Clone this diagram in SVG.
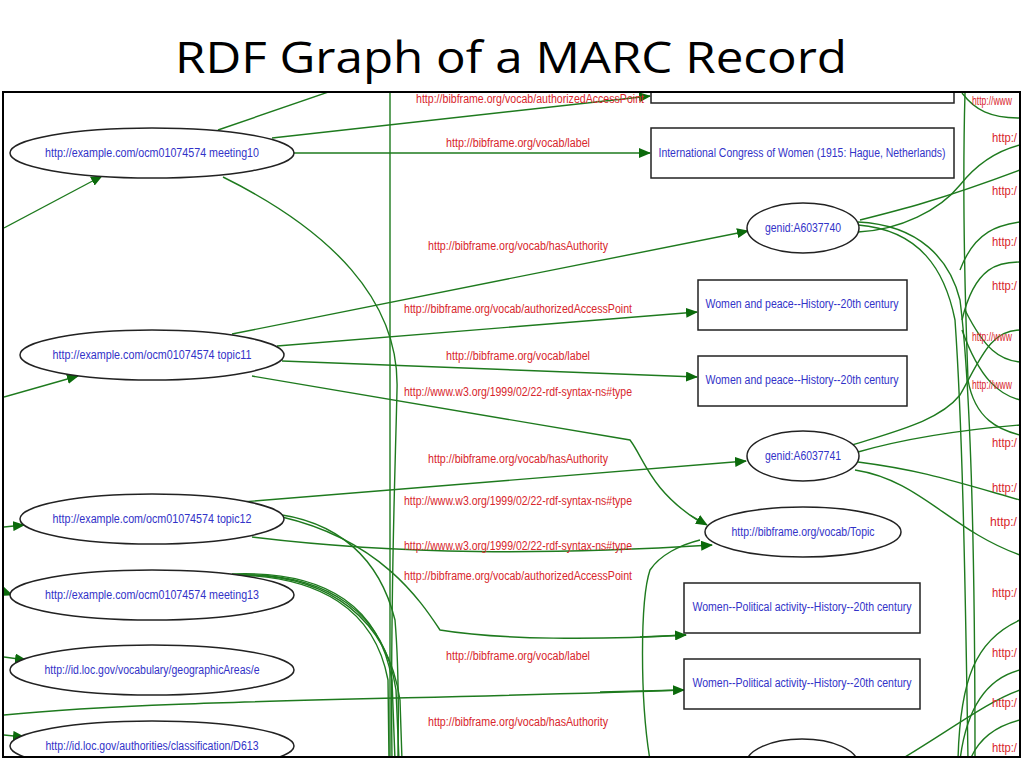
<svg xmlns="http://www.w3.org/2000/svg" width="1024" height="768" viewBox="0 0 1024 768">
<style>
.t{font-family:"Open Sans","Liberation Sans",Arial,sans-serif;font-size:44px;fill:#000}
.n{fill:#fff;stroke:#222;stroke-width:1.5}
.nt{font-family:"Liberation Sans",Arial,sans-serif;font-size:12px;fill:#3232c8;text-anchor:middle}
.lb{font-family:"Liberation Sans",Arial,sans-serif;font-size:12px;fill:#d8262c}
.e{fill:none;stroke:#1e7a1e;stroke-width:1.4}
.a{fill:none;stroke:#1e7a1e;stroke-width:1.4;marker-end:url(#ar)}
</style>
<defs>
<marker id="ar" markerWidth="12" markerHeight="10" refX="11" refY="5" orient="auto" markerUnits="userSpaceOnUse"><path d="M0,0 L12,5 L0,10 Z" fill="#0b6a0b"/></marker>
<clipPath id="fr"><rect x="4" y="93" width="1016" height="664"/></clipPath>
</defs>
<rect width="1024" height="768" fill="#fff"/>
<text class="t" x="511" y="73" text-anchor="middle" textLength="672" lengthAdjust="spacingAndGlyphs">RDF Graph of a MARC Record</text>
<g clip-path="url(#fr)">
<g id="edges">
<path class="a" d="M4,228 L102,176"/>
<path class="a" d="M4,397 L78,376"/>
<path class="a" d="M4,527 L24,525"/>
<path class="a" d="M4,592 L12,595"/>
<path class="a" d="M4,657 L26,660"/>
<path class="a" d="M4,735 L24,737"/>
<path class="e" d="M218,130 L340,88"/>
<path class="a" d="M272,138 L650,96"/>
<path class="a" d="M294,153 L650,153"/>
<path class="e" d="M223,177 C330,230 400,300 397,390 C395,480 390,600 392,760"/>
<path class="e" d="M390,93 L390,760"/>
<path class="a" d="M232,334 L748,231"/>
<path class="a" d="M277,346 L697,312"/>
<path class="a" d="M282,361 L697,377"/>
<path class="e" d="M252,376 L630,440 C645,460 650,490 700,522"/><path class="a" d="M690,515 L707,525"/>
<path class="a" d="M242,502 L746,461"/>
<path class="e" d="M268,513 C340,520 380,560 395,620 C400,680 398,730 398,760"/>
<path class="e" d="M282,517 C380,540 420,600 440,630 C500,640 600,640 686,635"/><path class="a" d="M640,637 L686,635"/>
<path class="a" d="M252,537 C400,555 550,555 712,545"/>
<path class="e" d="M232,574 C330,570 380,610 392,680 L395,760"/>
<path class="e" d="M236,575 C330,572 385,615 396,690 L399,760"/>
<path class="e" d="M240,575 C330,574 388,620 400,700 L402,760"/>
<path class="e" d="M230,575 C320,575 375,610 388,680 L389,760"/>
<path class="e" d="M4,715 C150,700 400,700 686,690"/><path class="a" d="M600,692 L684,690"/>
<path class="e" d="M650,760 C640,700 640,600 650,570 C660,555 680,545 700,540"/>
<path class="e" d="M860,220 C900,210 940,200 1020,170"/>
<path class="e" d="M858,232 C900,230 940,210 960,185 C980,160 1000,150 1020,145"/>
<path class="e" d="M858,222 C920,225 950,260 960,300 C970,380 975,520 975,760"/>
<path class="e" d="M858,225 C920,230 945,270 955,320 C962,420 965,560 968,760"/>
<path class="e" d="M858,452 C900,440 960,430 1020,425"/>
<path class="e" d="M858,462 C920,470 950,480 1020,500"/>
<path class="e" d="M852,445 C900,430 940,420 960,395 C980,360 990,330 1020,330"/>
<path class="e" d="M855,470 C920,480 950,530 1020,555"/>
<path class="e" d="M962,93 C975,110 990,118 1020,118"/>
<path class="e" d="M965,93 C962,200 965,300 968,380 C975,420 1000,430 1020,435"/>
<path class="e" d="M960,270 C975,230 1000,225 1020,222"/>
<path class="e" d="M962,320 C975,265 1000,262 1020,262"/>
<path class="e" d="M962,330 C980,380 1000,395 1020,400"/>
<path class="e" d="M965,310 C985,350 1000,360 1020,362"/>
<path class="e" d="M958,760 C960,680 975,640 1020,620"/>
<path class="e" d="M960,760 C965,720 980,680 1020,670"/>
<path class="e" d="M900,760 C950,730 990,700 1020,690"/>
<path class="e" d="M970,760 C980,735 1000,725 1020,720"/>
</g>
<g id="n0"><rect class="n" x="651" y="70" width="303" height="33"/></g>
<g id="n1"><ellipse class="n" cx="152" cy="153" rx="142" ry="25"/><text class="nt" x="152" y="157" textLength="214" lengthAdjust="spacingAndGlyphs">http://example.com/ocm01074574 meeting10</text></g>
<g id="n2"><rect class="n" x="651" y="128" width="303" height="50"/><text class="nt" x="802" y="157" textLength="287" lengthAdjust="spacingAndGlyphs">International Congress of Women (1915: Hague, Netherlands)</text></g>
<g id="n3"><ellipse class="n" cx="803" cy="228" rx="56" ry="25"/><text class="nt" x="803" y="232" textLength="76" lengthAdjust="spacingAndGlyphs">genid:A6037740</text></g>
<g id="n4"><rect class="n" x="698" y="280" width="209" height="50"/><text class="nt" x="802" y="308" textLength="193" lengthAdjust="spacingAndGlyphs">Women and peace--History--20th century</text></g>
<g id="n5"><ellipse class="n" cx="152" cy="355" rx="132" ry="25"/><text class="nt" x="152" y="359" textLength="199" lengthAdjust="spacingAndGlyphs">http://example.com/ocm01074574 topic11</text></g>
<g id="n6"><rect class="n" x="698" y="356" width="209" height="50"/><text class="nt" x="802" y="384" textLength="193" lengthAdjust="spacingAndGlyphs">Women and peace--History--20th century</text></g>
<g id="n7"><ellipse class="n" cx="803" cy="456" rx="56" ry="25"/><text class="nt" x="803" y="460" textLength="76" lengthAdjust="spacingAndGlyphs">genid:A6037741</text></g>
<g id="n8"><ellipse class="n" cx="152" cy="519" rx="132" ry="25"/><text class="nt" x="152" y="523" textLength="199" lengthAdjust="spacingAndGlyphs">http://example.com/ocm01074574 topic12</text></g>
<g id="n9"><ellipse class="n" cx="803" cy="532" rx="98" ry="25"/><text class="nt" x="803" y="536" textLength="143" lengthAdjust="spacingAndGlyphs">http://bibframe.org/vocab/Topic</text></g>
<g id="n10"><ellipse class="n" cx="152" cy="595" rx="142" ry="25"/><text class="nt" x="152" y="599" textLength="214" lengthAdjust="spacingAndGlyphs">http://example.com/ocm01074574 meeting13</text></g>
<g id="n11"><rect class="n" x="684" y="583" width="236" height="50"/><text class="nt" x="802" y="611" textLength="219" lengthAdjust="spacingAndGlyphs">Women--Political activity--History--20th century</text></g>
<g id="n12"><ellipse class="n" cx="152" cy="670" rx="142" ry="25"/><text class="nt" x="152" y="674" textLength="215" lengthAdjust="spacingAndGlyphs">http://id.loc.gov/vocabulary/geographicAreas/e</text></g>
<g id="n13"><rect class="n" x="684" y="659" width="236" height="50"/><text class="nt" x="802" y="687" textLength="219" lengthAdjust="spacingAndGlyphs">Women--Political activity--History--20th century</text></g>
<g id="n14"><ellipse class="n" cx="152" cy="746" rx="142" ry="25"/><text class="nt" x="152" y="750" textLength="213" lengthAdjust="spacingAndGlyphs">http://id.loc.gov/authorities/classification/D613</text></g>
<g id="n15"><ellipse class="n" cx="802" cy="764" rx="56" ry="25"/></g>
<g id="labels">
<text class="lb" x="416" y="103" textLength="228" lengthAdjust="spacingAndGlyphs">http://bibframe.org/vocab/authorizedAccessPoint</text>
<text class="lb" x="446" y="147" textLength="144" lengthAdjust="spacingAndGlyphs">http://bibframe.org/vocab/label</text>
<text class="lb" x="428" y="250" textLength="180" lengthAdjust="spacingAndGlyphs">http://bibframe.org/vocab/hasAuthority</text>
<text class="lb" x="404" y="313" textLength="228" lengthAdjust="spacingAndGlyphs">http://bibframe.org/vocab/authorizedAccessPoint</text>
<text class="lb" x="446" y="360" textLength="144" lengthAdjust="spacingAndGlyphs">http://bibframe.org/vocab/label</text>
<text class="lb" x="404" y="396" textLength="228" lengthAdjust="spacingAndGlyphs">http://www.w3.org/1999/02/22-rdf-syntax-ns#type</text>
<text class="lb" x="428" y="463" textLength="180" lengthAdjust="spacingAndGlyphs">http://bibframe.org/vocab/hasAuthority</text>
<text class="lb" x="404" y="505" textLength="228" lengthAdjust="spacingAndGlyphs">http://www.w3.org/1999/02/22-rdf-syntax-ns#type</text>
<text class="lb" x="404" y="550" textLength="228" lengthAdjust="spacingAndGlyphs">http://www.w3.org/1999/02/22-rdf-syntax-ns#type</text>
<text class="lb" x="404" y="580" textLength="228" lengthAdjust="spacingAndGlyphs">http://bibframe.org/vocab/authorizedAccessPoint</text>
<text class="lb" x="446" y="660" textLength="144" lengthAdjust="spacingAndGlyphs">http://bibframe.org/vocab/label</text>
<text class="lb" x="428" y="726" textLength="180" lengthAdjust="spacingAndGlyphs">http://bibframe.org/vocab/hasAuthority</text>
<text class="lb" x="972" y="105" textLength="40" lengthAdjust="spacingAndGlyphs">http://www</text>
<text class="lb" x="992" y="142" textLength="25" lengthAdjust="spacingAndGlyphs">http:/</text>
<text class="lb" x="992" y="195" textLength="25" lengthAdjust="spacingAndGlyphs">http:/</text>
<text class="lb" x="992" y="246" textLength="25" lengthAdjust="spacingAndGlyphs">http:/</text>
<text class="lb" x="992" y="290" textLength="25" lengthAdjust="spacingAndGlyphs">http:/</text>
<text class="lb" x="972" y="341" textLength="40" lengthAdjust="spacingAndGlyphs">http://www</text>
<text class="lb" x="972" y="389" textLength="40" lengthAdjust="spacingAndGlyphs">http://www</text>
<text class="lb" x="992" y="447" textLength="25" lengthAdjust="spacingAndGlyphs">http:/</text>
<text class="lb" x="992" y="492" textLength="25" lengthAdjust="spacingAndGlyphs">http:/</text>
<text class="lb" x="990" y="526" textLength="27" lengthAdjust="spacingAndGlyphs">http:/</text>
<text class="lb" x="992" y="597" textLength="25" lengthAdjust="spacingAndGlyphs">http:/</text>
<text class="lb" x="992" y="657" textLength="25" lengthAdjust="spacingAndGlyphs">http:/</text>
<text class="lb" x="992" y="707" textLength="25" lengthAdjust="spacingAndGlyphs">http:/</text>
<text class="lb" x="992" y="752" textLength="25" lengthAdjust="spacingAndGlyphs">http:/</text>
</g>
</g>
<rect x="3" y="92" width="1017" height="665" fill="none" stroke="#000" stroke-width="2"/>
</svg>
